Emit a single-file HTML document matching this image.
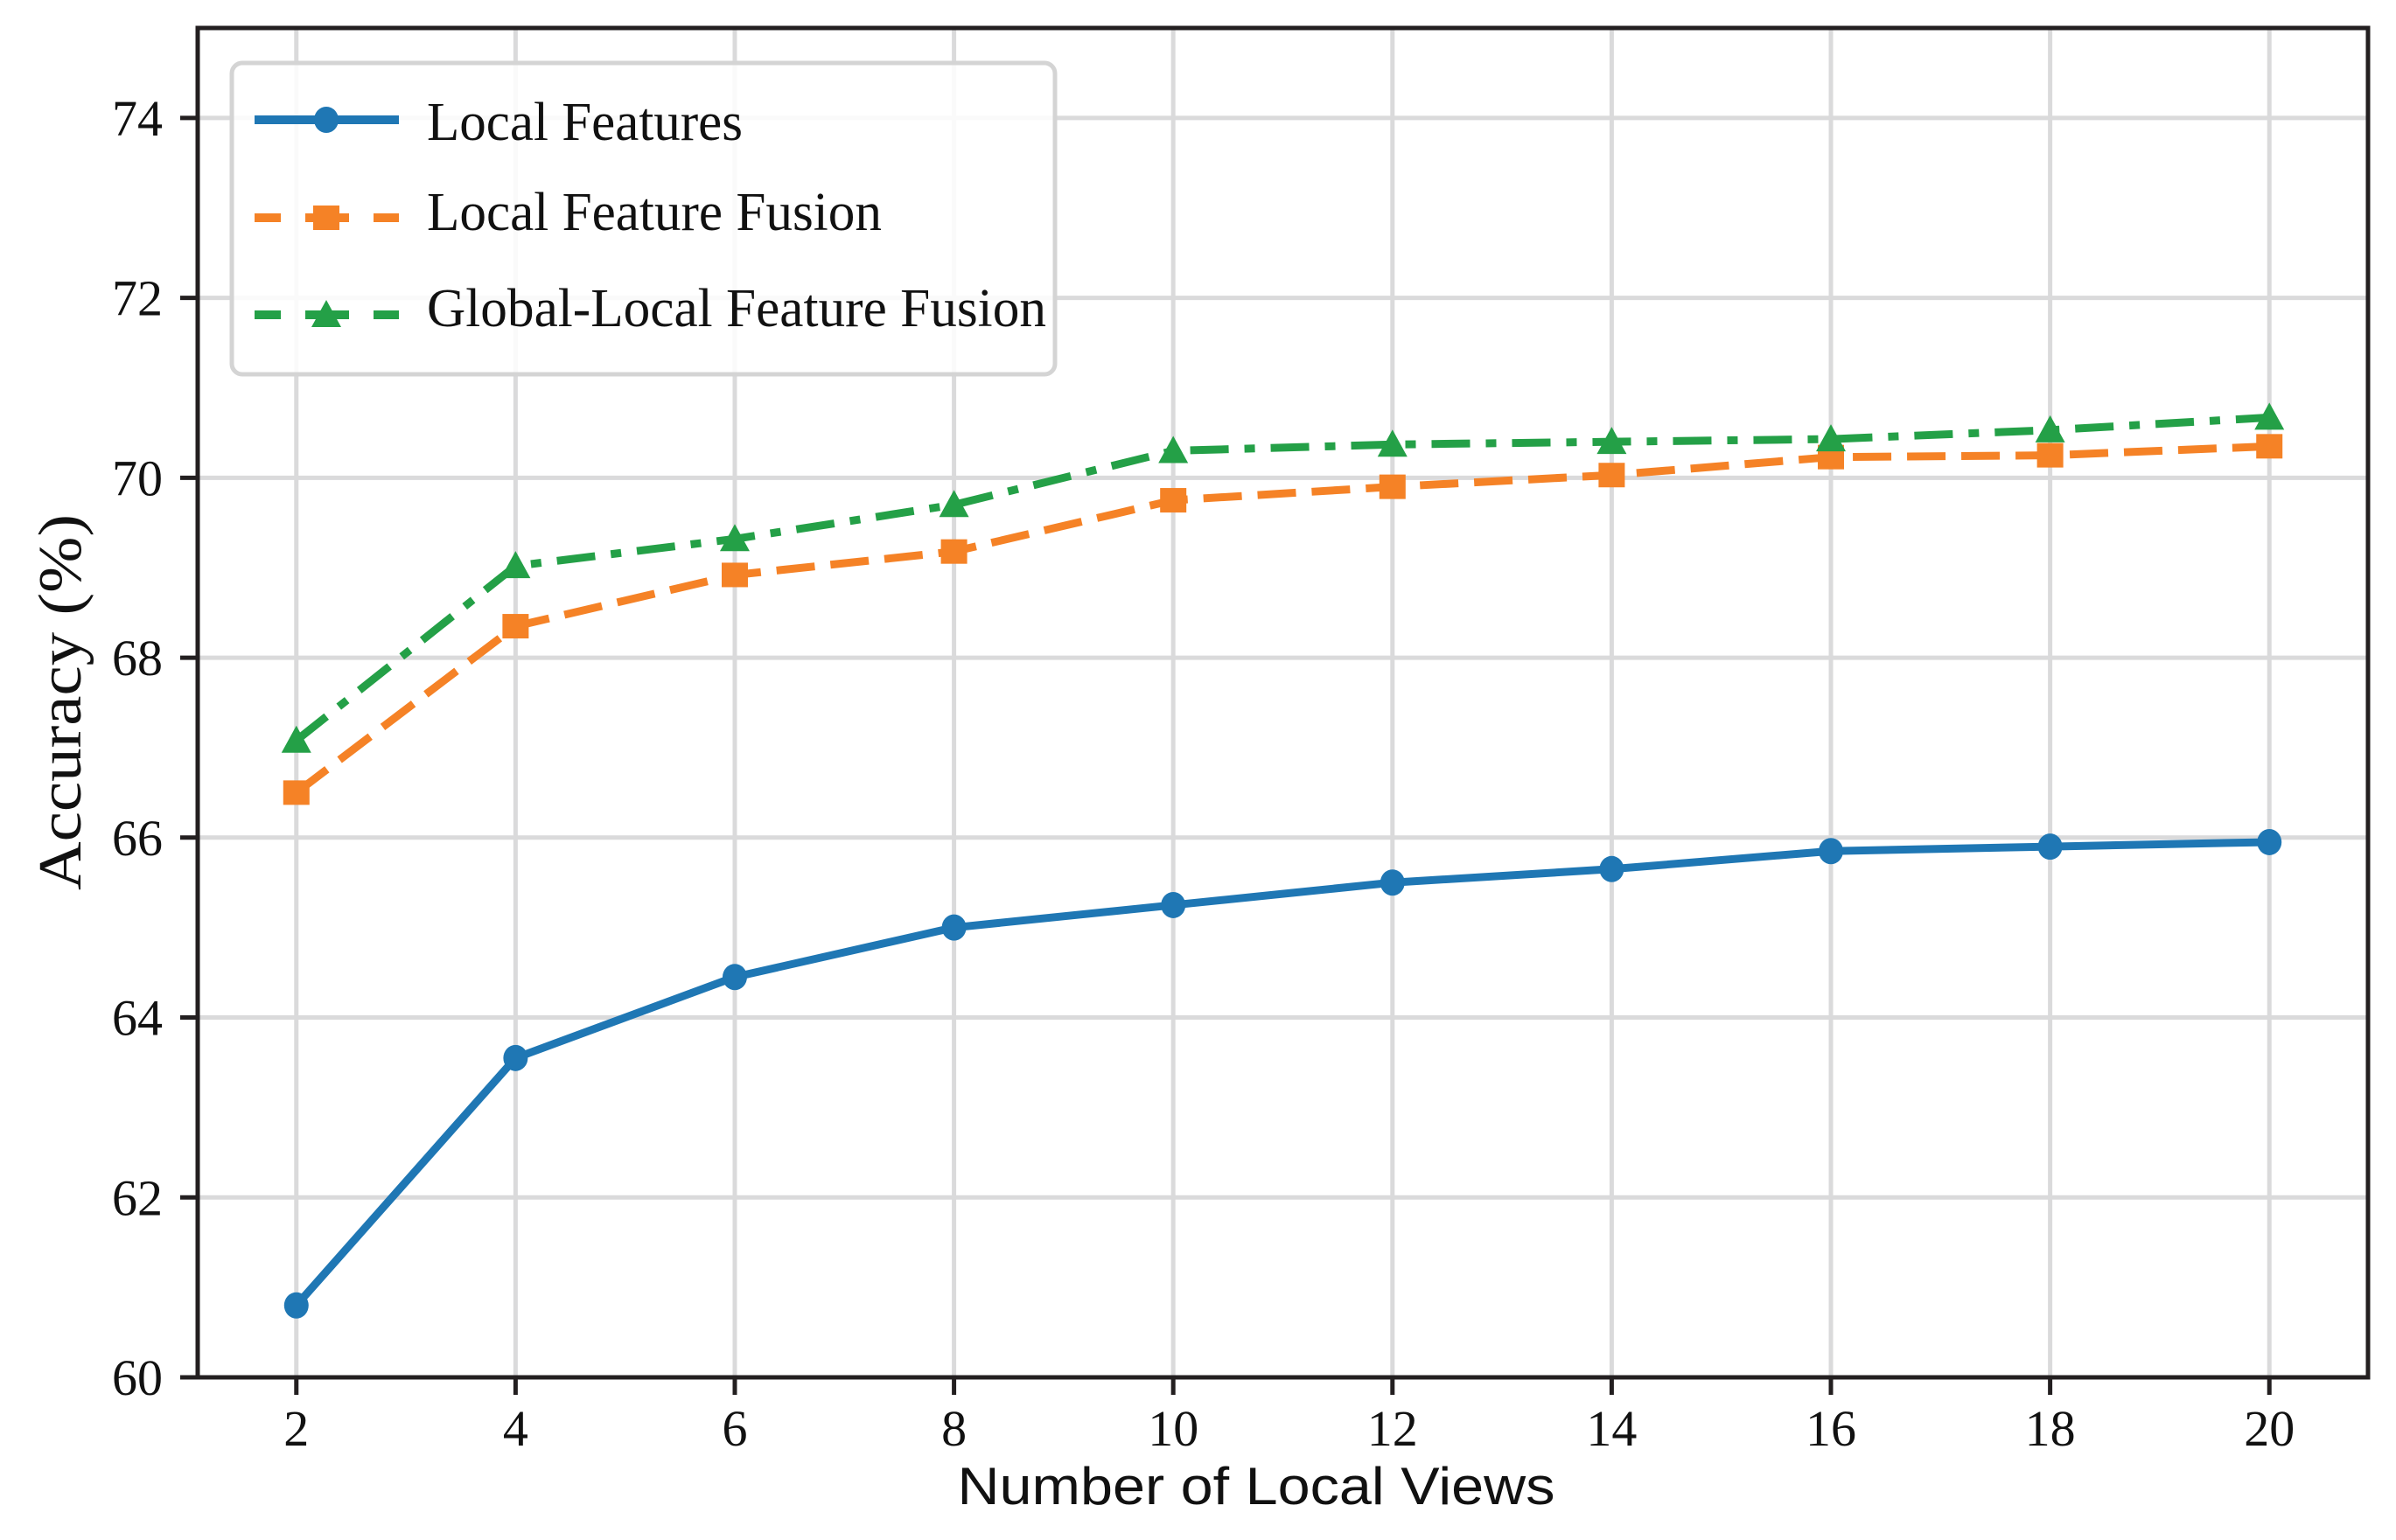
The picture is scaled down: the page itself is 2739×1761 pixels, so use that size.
<!DOCTYPE html>
<html><head><meta charset="utf-8"><style>
html,body{margin:0;padding:0;background:#fff;}
svg{display:block;}
</style></head><body>
<svg id="chart" width="2739" height="1761" viewBox="0 0 2739 1761" xmlns="http://www.w3.org/2000/svg">
<g id="grid"></g>
<g id="series"></g>
<rect x="226" y="32" width="2481" height="1543" fill="none" stroke="#231f20" stroke-width="5"/>
<g id="ticks" font-family="Liberation Serif, serif" font-size="58" fill="#111"></g>
<text transform="translate(92,803) rotate(-90)" text-anchor="middle" font-family="Liberation Serif, serif" font-size="70" textLength="430" lengthAdjust="spacingAndGlyphs" fill="#111">Accuracy (%)</text>
<text x="1436" y="1720" text-anchor="middle" font-family="Liberation Sans, sans-serif" font-size="60" textLength="683" lengthAdjust="spacingAndGlyphs" fill="#111">Number of Local Views</text>
<g id="legend">
<rect x="265" y="72" width="941" height="356" rx="12" fill="#fff" fill-opacity="0.85" stroke="#d4d4d4" stroke-width="5"/>
</g>
</svg>
<script>
const xValues = [2,4,6,8,10,12,14,16,18,20];
const localFeatures = [60.8,63.55,64.45,65.0,65.25,65.5,65.65,65.85,65.9,65.95];
const localFusion = [66.5,68.35,68.92,69.18,69.75,69.9,70.03,70.23,70.25,70.35];
const globalLocalFusion = [67.08,69.02,69.32,69.7,70.3,70.37,70.4,70.43,70.53,70.67];
const xTicks = [2,4,6,8,10,12,14,16,18,20];
const yTicks = [60,62,64,66,68,70,72,74];
const seriesNames = ["Local Features","Local Feature Fusion","Global-Local Feature Fusion"];

const NS="http://www.w3.org/2000/svg";
const X0=226,X1=2707,Y0=1575,Y1=32, XMIN=1.1,XMAX=20.9,YMIN=60,YMAX=75;
function sx(v){return X0+(v-XMIN)/(XMAX-XMIN)*(X1-X0);}
function sy(v){return Y0-(v-YMIN)/(YMAX-YMIN)*(Y0-Y1);}
function mk(tag,attrs,parent){const e=document.createElementNS(NS,tag);for(const k in attrs)e.setAttribute(k,attrs[k]);parent.appendChild(e);return e;}

const grid=document.getElementById('grid'), ticks=document.getElementById('ticks');
xTicks.forEach(t=>{
  const g=mk('line',{x1:sx(t),x2:sx(t),y1:Y1,y2:Y0,stroke:'#dadadb','stroke-width':5},grid);
  
  
  const tk=mk('line',{x1:sx(t),x2:sx(t),y1:Y0,y2:Y0+20,stroke:'#231f20','stroke-width':5},ticks);
  
  
  const lb=mk('text',{x:sx(t),y:1653,'text-anchor':'middle'},ticks);
  lb.textContent=t;
  
  
});
yTicks.forEach(t=>{
  const g=mk('line',{x1:X0,x2:X1,y1:sy(t),y2:sy(t),stroke:'#dadadb','stroke-width':5},grid);
  
  
  const tk=mk('line',{x1:X0-20,x2:X0,y1:sy(t),y2:sy(t),stroke:'#231f20','stroke-width':5},ticks);
  
  
  const lb=mk('text',{x:186,y:sy(t)+20,'text-anchor':'end'},ticks);
  lb.textContent=t;
  
  
});

const styles=[
 {data:localFeatures,color:'#1f77b4',dash:'none',marker:'circle'},
 {data:localFusion,color:'#f58226',dash:'44 18',marker:'square'},
 {data:globalLocalFusion,color:'#24a047',dash:'44 18 12 18',marker:'triangle'}
];
function marker(type,x,y,color,parent){
  let m;
  if(type==='circle') m=mk('ellipse',{cx:x,cy:y,rx:14,ry:15,fill:color},parent);
  else if(type==='square') m=mk('rect',{x:x-15,y:y-14,width:30,height:28,fill:color},parent);
  else m=mk('polygon',{points:`${x},${y-17} ${x-17},${y+14} ${x+17},${y+14}`,fill:color},parent);
  return m;
}
const sl=document.getElementById('series');
const order=[0,1,2];
order.forEach(i=>{
  const s=styles[i];
  const pts=xValues.map((x,j)=>sx(x)+','+sy(s.data[j])).join(' ');
  const pl=mk('polyline',{points:pts,fill:'none',stroke:s.color,'stroke-width':9,'stroke-dasharray':s.dash,'stroke-linejoin':'round'},sl);
  
  
});
order.forEach(i=>{
  const s=styles[i];
  xValues.forEach((x,j)=>{
    const m=marker(s.marker,sx(x),sy(s.data[j]),s.color,sl);
    
    
  });
});

const lg=document.getElementById('legend');
const rowsY=[137,249,360], baseY=[160,263,373], lens=[361,520,708];
seriesNames.forEach((n,i)=>{
  const s=styles[i];
  const g=mk('g',{},lg);
  
  
  mk('line',{x1:291,x2:456,y1:rowsY[i],y2:rowsY[i],stroke:s.color,'stroke-width':10,'stroke-dasharray':i===0?'none':(i===1?'30 28 50 28 30':'30 28 50 28 30')},g);
  marker(s.marker,373,rowsY[i],s.color,g);
  const t=mk('text',{x:488,y:baseY[i],'font-family':'Liberation Serif, serif','font-size':62,fill:'#111',textLength:lens[i],lengthAdjust:'spacingAndGlyphs'},g);
  t.textContent=n;
});
</script>
</body></html>
